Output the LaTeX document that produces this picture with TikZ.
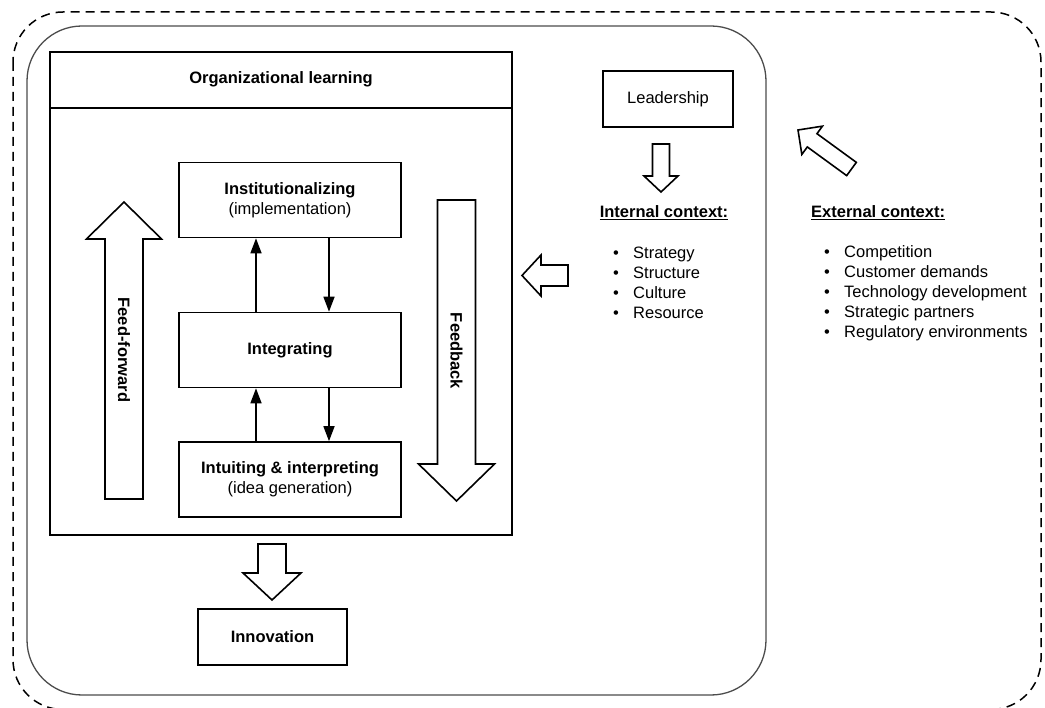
\documentclass[tikz,border=0pt]{standalone}
\usepackage{fontspec}
\setmainfont{Liberation Sans}
\usetikzlibrary{arrows.meta,calc}
\tikzstyle{box}=[rectangle,draw=black,line width=1.6pt,minimum width=222pt,
  minimum height=75pt,align=center,inner sep=0pt]
\tikzstyle{small}=[rectangle,draw=black,line width=1.6pt,minimum height=56pt,inner sep=0pt]
\tikzstyle{flow}=[line width=1.5pt,-{Triangle[length=15pt,width=11pt]}]
\tikzstyle{fat}=[draw=black,fill=white,line width=1.6pt,line join=miter]
\tikzstyle{heading}=[font=\bfseries,inner sep=0pt]
\tikzstyle{list}=[anchor=west,align=left,inner sep=0pt]
\tikzstyle{none}=[]
% block arrow: tail, tip, half shaft, half head, head length
\newcommand{\fatarrow}[5]{%
  \coordinate (hb) at ($(#2)!#5!(#1)$);
  \draw[fat] ($(#1)!#3!90:(#2)$) -- ($(hb)!#3!-90:(#1)$) -- ($(hb)!#4!-90:(#1)$)
    -- (#2) -- ($(hb)!#4!90:(#1)$) -- ($(hb)!#3!90:(#1)$) -- ($(#1)!#3!-90:(#2)$) -- cycle;}
\begin{document}
\fontsize{16.5}{20}\selectfont
\begin{tikzpicture}[x=1pt,y=-1pt]
		\useasboundingbox (0,0) rectangle (1045,708);
		% frames
		\draw [line width=1.5pt,dash pattern=on 9pt off 6pt,rounded corners=50pt] (13,12) rectangle (1041,709.5);
		\draw [draw=black!70,line width=1.3pt,rounded corners=55pt] (27,26) rectangle (766,695);
		% organizational learning
		\node [style=box,minimum width=462pt,minimum height=483pt] (org) at (281,293.5) {};
		\draw [line width=1.6pt] (org.west |- 0,108) to (org.east |- 0,108);
		\node [style=none,font=\bfseries] (orgtitle) at (281,79) {Organizational learning};
		\node [style=box] (inst) at (290,200) {\textbf{Institutionalizing}\\(implementation)};
		\node [style=box,font=\bfseries] (integ) at (290,350) {Integrating};
		\node [style=box] (intu) at (290,479.5) {\textbf{Intuiting \& interpreting}\\(idea generation)};
		\draw [style=flow] ([xshift=-34pt]integ.north) to ([xshift=-34pt]inst.south);
		\draw [style=flow] ([xshift=39pt]inst.south) to ([xshift=39pt]integ.north);
		\draw [style=flow] ([xshift=-34pt]intu.north) to ([xshift=-34pt]integ.south);
		\draw [style=flow] ([xshift=39pt]integ.south) to ([xshift=39pt]intu.north);
		% feed-forward and feedback
		\coordinate (fftail) at (124,499);
		\coordinate (fftip) at (124,202);
		\fatarrow{fftail}{fftip}{19pt}{37.5pt}{37pt}
		\node [style=none,rotate=-90,font=\bfseries] (ff) at (124,350) {Feed-forward};
		\coordinate (fbtail) at (456.5,200);
		\coordinate (fbtip) at (456.5,501);
		\fatarrow{fbtail}{fbtip}{19pt}{38pt}{37pt}
		\node [style=none,rotate=-90,font=\bfseries] (fb) at (456.5,351) {Feedback};
		% innovation
		\node [style=small,minimum width=149pt,font=\bfseries] (innov) at (272.5,637) {Innovation};
		\coordinate (intail) at (272,544);
		\coordinate (intip) at (272,600);
		\fatarrow{intail}{intip}{14pt}{29pt}{27pt}
		% leadership and internal context
		\node [style=small,minimum width=130pt] (lead) at (668,99) {Leadership};
		\coordinate (ldtail) at (661,144);
		\coordinate (ldtip) at (661,192);
		\fatarrow{ldtail}{ldtip}{8.5pt}{17pt}{16pt}
		\node [style=heading] (internal) at (664,213) {\underline{Internal context:}};
		\node [style=list] (intlist) at (613,283) {\makebox[20pt][l]{\textbullet}Strategy\\
			\makebox[20pt][l]{\textbullet}Structure\\
			\makebox[20pt][l]{\textbullet}Culture\\
			\makebox[20pt][l]{\textbullet}Resource};
		\coordinate (lftail) at (568,275.5);
		\coordinate (lftip) at (522,275.5);
		\fatarrow{lftail}{lftip}{10.5pt}{20.5pt}{19pt}
		% external context
		\coordinate (extail) at (851.5,169);
		\coordinate (extip) at (798,130);
		\fatarrow{extail}{extip}{8.2pt}{17.5pt}{17.5pt}
		\node [style=heading,anchor=west] (external) at (811,213) {\underline{External context:}};
		\node [style=list] (extlist) at (824,293) {\makebox[20pt][l]{\textbullet}Competition\\
			\makebox[20pt][l]{\textbullet}Customer demands\\
			\makebox[20pt][l]{\textbullet}Technology development\\
			\makebox[20pt][l]{\textbullet}Strategic partners\\
			\makebox[20pt][l]{\textbullet}Regulatory environments};
\end{tikzpicture}
\end{document}
